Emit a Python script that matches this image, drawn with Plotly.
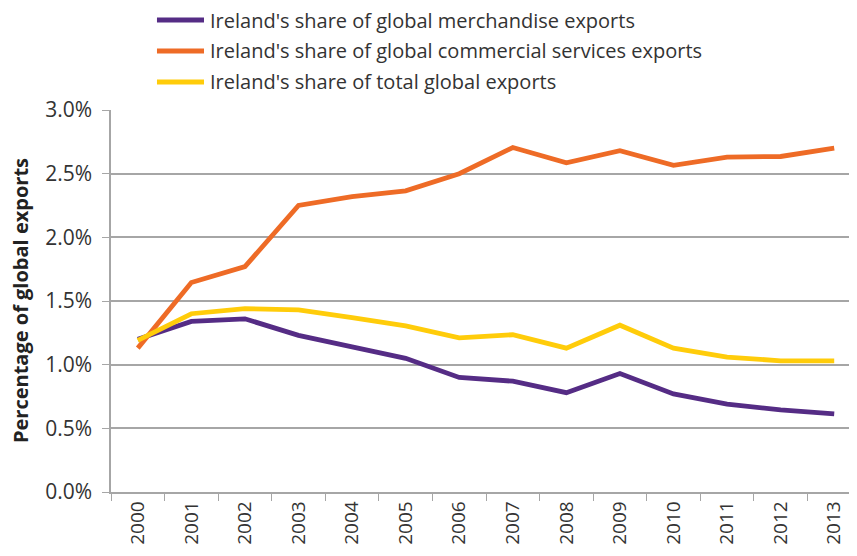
import plotly.graph_objects as go

years = [str(y) for y in range(2000, 2014)]

# share of global exports, %
merchandise = [1.20, 1.34, 1.36, 1.23, 1.14, 1.05, 0.90, 0.87, 0.78, 0.93, 0.77, 0.69, 0.645, 0.613]
services = [1.13, 1.645, 1.77, 2.25, 2.32, 2.365, 2.50, 2.705, 2.585, 2.68, 2.565, 2.63, 2.635, 2.70]
total = [1.19, 1.40, 1.44, 1.43, 1.37, 1.305, 1.21, 1.235, 1.13, 1.31, 1.13, 1.06, 1.03, 1.03]

series = [
    ("Ireland's share of global merchandise exports", merchandise, "#552C85"),
    ("Ireland's share of global commercial services exports", services, "#EE6B26"),
    ("Ireland's share of total global exports", total, "#FFCC0A"),
]

font = "Open Sans, DejaVu Sans, sans-serif"

fig = go.Figure()
for name, vals, color in series:
    fig.add_trace(go.Scatter(
        x=years, y=[v / 100 for v in vals],
        mode="lines", name=name, showlegend=False,
        line=dict(color=color, width=4.8),
    ))

# legend drawn by hand above the plot, one row per series
legend_rows = [1.2356, 1.1545, 1.0733]
for (name, _, color), ly in zip(series, legend_rows):
    fig.add_shape(type="line", xref="paper", yref="paper",
                  x0=0.0613, x1=0.124, y0=ly, y1=ly,
                  line=dict(color=color, width=5))
    fig.add_annotation(xref="paper", yref="paper", x=0.1293, y=ly,
                       xanchor="left", yanchor="middle", showarrow=False,
                       text=name, font=dict(size=20, color="#333333"))

fig.add_annotation(xref="paper", yref="paper", x=-0.1213, y=0.5,
                   xanchor="center", yanchor="middle", showarrow=False,
                   textangle=-90, text="<b>Percentage of global exports</b>",
                   font=dict(size=20, color="#222222"))

fig.update_layout(
    width=857, height=556,
    margin=dict(l=103, r=4, t=102, b=72),
    plot_bgcolor="white", paper_bgcolor="white",
    font=dict(family=font, color="#333333"),
)

fig.update_xaxes(
    type="category", range=[-0.5, 13.5], automargin=False,
    tickangle=-90, tickfont=dict(size=19),
    ticks="outside", ticklen=7, tickcolor="#a6a6a6",
    tickson="boundaries",
    showline=True, linecolor="#a6a6a6", linewidth=1.5,
    showgrid=False,
)

fig.update_yaxes(
    range=[0, 0.03], dtick=0.005, tickformat=".1%", automargin=False,
    tickfont=dict(size=21), ticklabelstandoff=6,
    ticks="outside", ticklen=7, tickcolor="#a6a6a6",
    showgrid=True, gridcolor="#a6a6a6", gridwidth=1.5,
    showline=True, linecolor="#a6a6a6", linewidth=1.5,
    zeroline=False,
)

fig.write_html("out.html")
